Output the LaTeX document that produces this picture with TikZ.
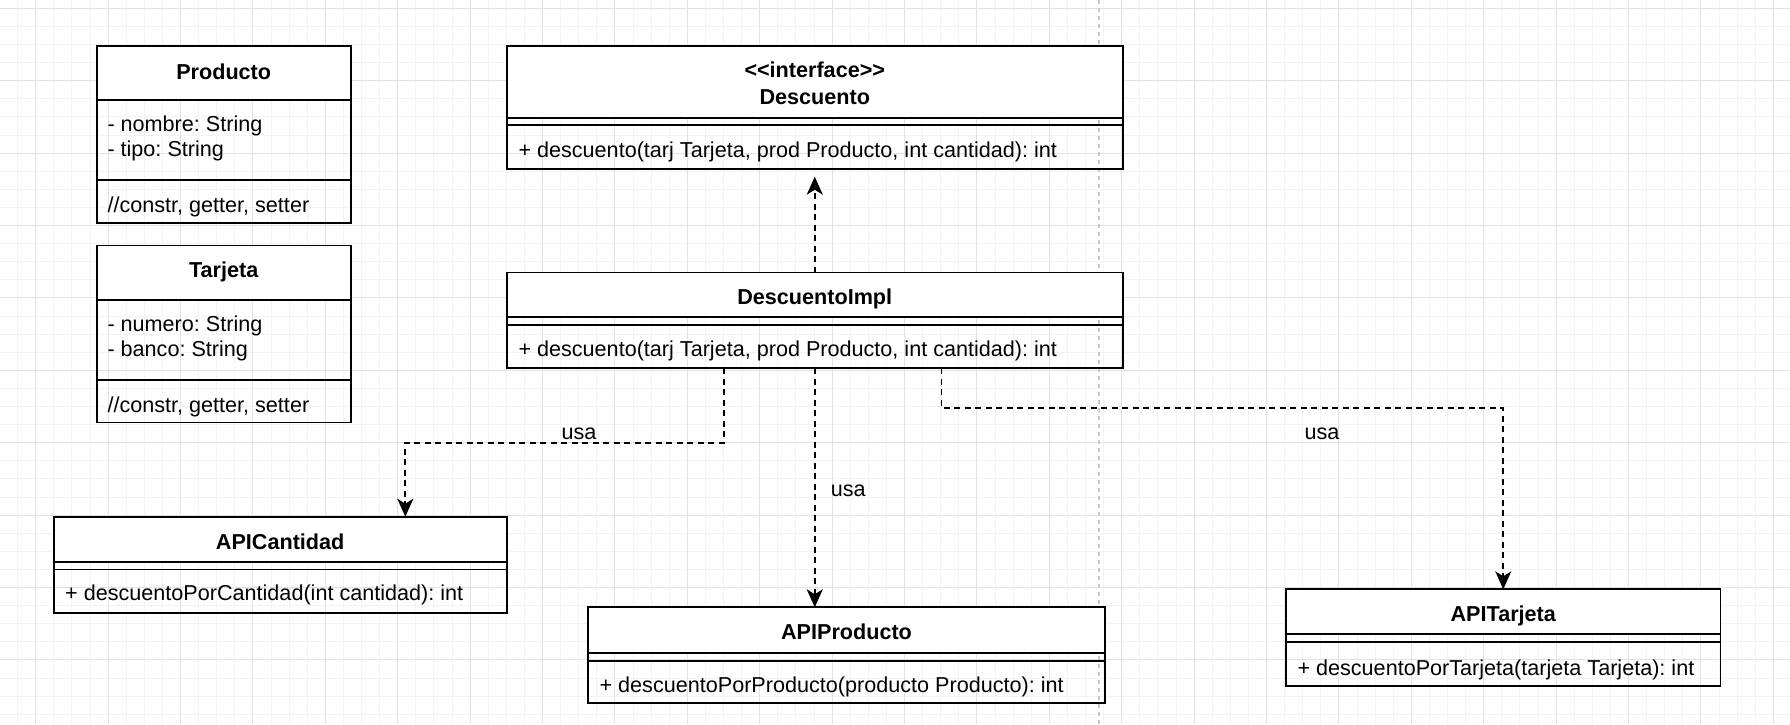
\documentclass[tikz,border=0pt]{standalone}
\usepackage{fontspec}
\setmainfont{Liberation Sans}[Ligatures=TeXOff]
\usetikzlibrary{arrows.meta}
\definecolor{gridminor}{RGB}{243,243,243}
\definecolor{gridmajor}{RGB}{226,226,226}
\definecolor{pagebreak}{RGB}{200,200,200}
\tikzset{
  boxline/.style={line width=1.8pt, draw=black},
  umlbox/.style={boxline, rectangle, inner sep=0pt, outer sep=0pt, anchor=north west},
  titletext/.style={font=\fontsize{21.6}{26}\selectfont\bfseries\frenchspacing, anchor=base, inner sep=0pt},
  member/.style={font=\fontsize{21.6}{26}\selectfont\frenchspacing, anchor=base west, inner sep=0pt},
  lbl/.style={font=\fontsize{21.6}{26}\selectfont, inner sep=0pt},
  dep/.style={line width=1.8pt, dash pattern=on 6pt off 4.5pt, -{Stealth[length=18pt,width=16pt,inset=5pt]}},
}
\newcommand{\umlclass}[6]{%
  \fill[white] (#2,#3) rectangle (#4,#6);
  \node[umlbox, minimum width={(#4-#2)*1pt}, minimum height={(#5-#3)*1pt}] (#1) at (#2,#3) {};
  \draw[boxline] (#2,#6) -- (#4,#6);
}
\begin{document}
\begin{tikzpicture}[x=1pt,y=-1pt]
\useasboundingbox (0,0) rectangle (1790,724);
\fill[white] (0,0) rectangle (1790,724);
% grid
\foreach \k in {0,...,99} {\draw[gridminor, line width=1pt] ({-0.5+18.1*\k},0) -- ({-0.5+18.1*\k},724);}
\foreach \k in {0,...,41} {\draw[gridminor, line width=1pt] (0,{-9.8+18.1*\k}) -- (1790,{-9.8+18.1*\k});}
\foreach \k in {0,...,24} {\draw[gridmajor, line width=1pt] ({35.7+72.4*\k},0) -- ({35.7+72.4*\k},724);}
\foreach \k in {0,...,9} {\draw[gridmajor, line width=1pt] (0,{8.3+72.4*\k}) -- (1790,{8.3+72.4*\k});}
% page break
\draw[pagebreak, line width=1.5pt, dash pattern=on 4pt off 4pt] (1099,0) -- (1099,724);

% Producto
\umlclass{prod}{96.7}{45.7}{350.7}{222.7}{100.3}
\draw[boxline] (96.7,180) -- (350.7,180);
\node[titletext] (prodt) at (223.7,79) {Producto};
\node[member] (proda1) at (107.3,131) {- nombre: String};
\node[member] (proda2) at (107.3,156.7) {- tipo: String};
\node[member] (prodm) at (107.3,212.7) {//constr, getter, setter};

% Tarjeta
\umlclass{tarj}{96.7}{245.4}{350.7}{422.4}{300}
\draw[boxline] (96.7,379.7) -- (350.7,379.7);
\node[titletext] (tarjt) at (223.7,277.5) {Tarjeta};
\node[member] (tarja1) at (107.3,331.2) {- numero: String};
\node[member] (tarja2) at (107.3,356.6) {- banco: String};
\node[member] (tarjm) at (107.3,412) {//constr, getter, setter};

% Descuento
\umlclass{desc}{506.7}{45.7}{1122.8}{168.7}{117.7}
\draw[boxline] (506.7,125.3) -- (1122.8,125.3);
\node[titletext] (desct1) at (814.75,77.7) {<<interface>>};
\node[titletext] (desct2) at (814.75,104) {Descuento};
\node[member] (descm) at (518.3,157.3) {+ descuento(tarj Tarjeta, prod Producto, int cantidad): int};

% DescuentoImpl
\umlclass{impl}{506.7}{272.5}{1122.8}{368.3}{317.3}
\draw[boxline] (506.7,324.8) -- (1122.8,324.8);
\node[titletext] (implt) at (814.75,304.3) {DescuentoImpl};
\node[member] (implm) at (518.3,356.7) {+ descuento(tarj Tarjeta, prod Producto, int cantidad): int};

% APICantidad
\umlclass{cant}{53.6}{516.7}{506.7}{613.3}{562.3}
\draw[boxline] (53.6,569.5) -- (506.7,569.5);
\node[titletext] (cantt) at (280.15,549.5) {APICantidad};
\node[member] (cantm) at (65,600.7) {+ descuentoPorCantidad(int cantidad): int};

% APIProducto
\umlclass{apip}{588}{607.3}{1105}{703.3}{653.3}
\draw[boxline] (588,660.7) -- (1105,660.7);
\node[titletext] (apipt) at (846.5,639.3) {APIProducto};
\node[member] (apipm) at (599.4,692.3) {+ descuentoPorProducto(producto Producto): int};

% APITarjeta
\umlclass{apit}{1286}{589.3}{1720.5}{685.7}{634.3}
\draw[boxline] (1286,641.7) -- (1720.5,641.7);
\node[titletext] (apitt) at (1503.25,621.3) {APITarjeta};
\node[member] (apitm) at (1297.3,675) {+ descuentoPorTarjeta(tarjeta Tarjeta): int};

% connectors
\draw[dep, shorten >=8pt] (impl.north) -- (desc.south);
\coordinate (k1) at (405.3,442.7);
\draw[dep] ([xshift=-90.8pt]impl.south) |- (k1) -- (cant.north -| k1);
\draw[dep] (impl.south) -- (impl.south |- apip.north);
\coordinate (k3) at (1503.25,408.3);
\draw[dep] ([xshift=126.8pt]impl.south) |- (k3) -- (apit.north);
\node[lbl, anchor=base] (u1) at (579,439.5) {usa};
\node[lbl, anchor=base west] (u2) at (830.6,496.7) {usa};
\node[lbl, anchor=base] (u3) at (1322,439.5) {usa};
\end{tikzpicture}
\end{document}
